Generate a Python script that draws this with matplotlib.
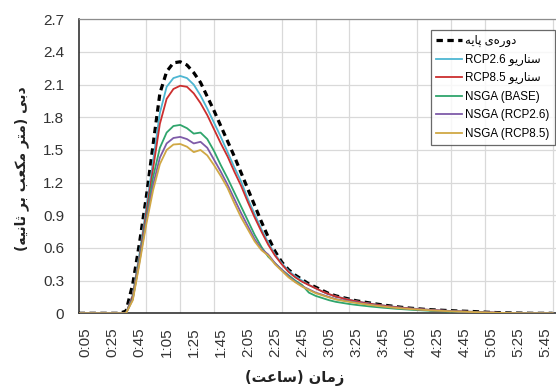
import matplotlib
matplotlib.use("Agg")
import matplotlib.pyplot as plt
import numpy as np

# ---------------- data ----------------
time_min = list(range(0, 355, 5))  # categories every 5 minutes (0:00 .. 5:50)

base_period = [0, 0, 0, 0, 0, 0, 0, 0.02, 0.27, 0.65, 1.07, 1.55, 2.02, 2.22, 2.30, 2.31,
               2.28, 2.21, 2.12, 1.99, 1.86, 1.72, 1.58, 1.44, 1.29, 1.14, 0.99, 0.84, 0.70,
               0.57, 0.47, 0.40, 0.35, 0.31, 0.27, 0.24, 0.21, 0.18, 0.16, 0.145, 0.13, 0.115,
               0.105, 0.095, 0.085, 0.076, 0.068, 0.06, 0.053, 0.047, 0.042, 0.037, 0.033,
               0.03, 0.027, 0.024, 0.021, 0.019, 0.017, 0.014, 0.011, 0.008, 0.006, 0.004,
               0.003, 0.002, 0.001, 0, 0, 0, 0]
rcp26 = [0, 0, 0, 0, 0, 0, 0, 0.0, 0.17, 0.55, 0.97, 1.40, 1.84, 2.08, 2.16, 2.18,
         2.16, 2.10, 2.00, 1.88, 1.75, 1.62, 1.48, 1.34, 1.21, 1.05, 0.91, 0.77, 0.65,
         0.54, 0.46, 0.39, 0.34, 0.30, 0.26, 0.23, 0.20, 0.175, 0.155, 0.14, 0.125, 0.11,
         0.10, 0.09, 0.08, 0.072, 0.064, 0.057, 0.05, 0.045, 0.04, 0.035, 0.031, 0.027,
         0.024, 0.021, 0.018, 0.016, 0.014, 0.012, 0.009, 0.007, 0.005, 0.003, 0.002,
         0.001, 0, 0, 0, 0, 0]
rcp85 = [0, 0, 0, 0, 0, 0, 0, 0.0, 0.16, 0.52, 0.93, 1.33, 1.74, 1.97, 2.06, 2.09,
         2.08, 2.02, 1.93, 1.82, 1.69, 1.56, 1.44, 1.30, 1.17, 1.02, 0.88, 0.75, 0.63,
         0.53, 0.45, 0.38, 0.33, 0.29, 0.26, 0.23, 0.20, 0.175, 0.155, 0.138, 0.123, 0.11,
         0.098, 0.088, 0.079, 0.071, 0.063, 0.056, 0.05, 0.044, 0.039, 0.035, 0.031,
         0.027, 0.024, 0.021, 0.018, 0.016, 0.014, 0.011, 0.009, 0.007, 0.005, 0.003,
         0.002, 0.001, 0, 0, 0, 0, 0]
nsga_base = [0, 0, 0, 0, 0, 0, 0, 0.0, 0.14, 0.50, 0.88, 1.25, 1.52, 1.66, 1.72, 1.73,
             1.70, 1.65, 1.66, 1.60, 1.49, 1.36, 1.24, 1.11, 0.98, 0.85, 0.72, 0.61, 0.52,
             0.46, 0.40, 0.35, 0.30, 0.26, 0.19, 0.16, 0.14, 0.12, 0.105, 0.095, 0.085,
             0.077, 0.07, 0.063, 0.057, 0.051, 0.046, 0.041, 0.037, 0.033, 0.029, 0.026,
             0.023, 0.02, 0.018, 0.016, 0.014, 0.012, 0.01, 0.008, 0.006, 0.004, 0.003,
             0.002, 0.001, 0, 0, 0, 0, 0, 0]
nsga_rcp26 = [0, 0, 0, 0, 0, 0, 0, 0.0, 0.13, 0.48, 0.85, 1.18, 1.43, 1.56, 1.61, 1.62,
              1.60, 1.56, 1.575, 1.52, 1.41, 1.30, 1.18, 1.05, 0.92, 0.80, 0.68, 0.59, 0.54,
              0.46, 0.40, 0.34, 0.29, 0.25, 0.22, 0.19, 0.17, 0.15, 0.13, 0.12, 0.11, 0.10,
              0.09, 0.08, 0.072, 0.064, 0.057, 0.051, 0.045, 0.04, 0.036, 0.032, 0.028,
              0.025, 0.022, 0.019, 0.016, 0.014, 0.012, 0.01, 0.008, 0.006, 0.004, 0.003,
              0.002, 0.001, 0, 0, 0, 0, 0]
nsga_rcp85 = [0, 0, 0, 0, 0, 0, 0, 0.0, 0.12, 0.46, 0.82, 1.13, 1.37, 1.50, 1.55, 1.555,
              1.53, 1.48, 1.50, 1.45, 1.36, 1.26, 1.15, 1.01, 0.88, 0.77, 0.66, 0.58, 0.53,
              0.45, 0.39, 0.33, 0.285, 0.245, 0.215, 0.185, 0.165, 0.145, 0.127, 0.115,
              0.105, 0.095, 0.086, 0.077, 0.069, 0.062, 0.055, 0.049, 0.044, 0.039, 0.035,
              0.031, 0.027, 0.024, 0.021, 0.018, 0.016, 0.014, 0.012, 0.01, 0.008, 0.006,
              0.004, 0.003, 0.002, 0.001, 0, 0, 0, 0, 0]

series_labels = ["دوره‌ی پایه", "سناریو RCP2.6", "سناریو RCP8.5",
                 "NSGA (BASE)", "NSGA (RCP2.6)", "NSGA (RCP8.5)"]
x_tick_pos = list(range(5, 350, 20))
x_tick_labels = ["0:05", "0:25", "0:45", "1:05", "1:25", "1:45", "2:05", "2:25", "2:45",
                 "3:05", "3:25", "3:45", "4:05", "4:25", "4:45", "5:05", "5:25", "5:45"]
y_ticks = [0, 0.3, 0.6, 0.9, 1.2, 1.5, 1.8, 2.1, 2.4, 2.7]
y_tick_labels = ["0", "0.3", "0.6", "0.9", "1.2", "1.5", "1.8", "2.1", "2.4", "2.7"]
x_title = "زمان (ساعت)"
y_title = "دبی (متر مکعب بر ثانیه)"

# ---------------- minimal Persian shaping (no external libs) ----------------
FORMS = {
    'ا': ('\uFE8D', '\uFE8E', None, None),
    'ب': ('\uFE8F', '\uFE90', '\uFE91', '\uFE92'),
    'پ': ('\uFB56', '\uFB57', '\uFB58', '\uFB59'),
    'ت': ('\uFE95', '\uFE96', '\uFE97', '\uFE98'),
    'ث': ('\uFE99', '\uFE9A', '\uFE9B', '\uFE9C'),
    'د': ('\uFEA9', '\uFEAA', None, None),
    'ر': ('\uFEAD', '\uFEAE', None, None),
    'ز': ('\uFEAF', '\uFEB0', None, None),
    'س': ('\uFEB1', '\uFEB2', '\uFEB3', '\uFEB4'),
    'ع': ('\uFEC9', '\uFECA', '\uFECB', '\uFECC'),
    'م': ('\uFEE1', '\uFEE2', '\uFEE3', '\uFEE4'),
    'ن': ('\uFEE5', '\uFEE6', '\uFEE7', '\uFEE8'),
    'ه': ('\uFEE9', '\uFEEA', '\uFEEB', '\uFEEC'),
    'و': ('\uFEED', '\uFEEE', None, None),
    'ی': ('\uFBFC', '\uFBFD', '\uFBFE', '\uFBFF'),
    'ک': ('\uFB8E', '\uFB8F', '\uFB90', '\uFB91'),
}


def shape(s):
    out = []
    n = len(s)
    for i, c in enumerate(s):
        if c not in FORMS:
            if c != '\u200c':
                out.append(c)
            continue
        prev = s[i - 1] if i > 0 else ''
        nxt = s[i + 1] if i < n - 1 else ''
        jp = prev in FORMS and FORMS[prev][2] is not None
        jn = nxt in FORMS and FORMS[c][2] is not None
        iso, fin, ini, med = FORMS[c]
        if jp and jn:
            out.append(med)
        elif jp:
            out.append(fin)
        elif jn:
            out.append(ini)
        else:
            out.append(iso)
    return ''.join(out)


def is_ar(ch):
    o = ord(ch)
    return 0x0600 <= o <= 0x06FF or 0xFB50 <= o <= 0xFDFF or 0xFE70 <= o <= 0xFEFF


def visual(s):
    if not any(is_ar(c) for c in s):
        return s
    words = shape(s).split(' ')
    res = []
    for w in reversed(words):
        if any(is_ar(c) for c in w):
            w = w[::-1].translate(str.maketrans('()', ')('))
        res.append(w)
    return ' '.join(res)


# ---------------- figure ----------------
W, H = 556, 387
fig = plt.figure(figsize=(W / 100, H / 100), dpi=100)
ax = fig.add_axes([79.3 / W, 1 - 313.3 / H, (W - 79.3) / W, (313.3 - 19.3) / H])

colors = ["#000000", "#4DB6D2", "#CC2E2E", "#2FA56C", "#7E5BA8", "#D0A844"]
series = [base_period, rcp26, rcp85, nsga_base, nsga_rcp26, nsga_rcp85]
for i, (vals, col, lab) in enumerate(zip(series, colors, series_labels)):
    if i == 0:
        ax.plot(time_min, vals, color=col, lw=2.3, ls=(0, (2.0, 1.4)), label=visual(lab),
                zorder=3, dash_capstyle='butt')
    else:
        ax.plot(time_min, vals, color=col, lw=1.3, label=visual(lab), zorder=3 + i)

ax.set_xlim(0.5, 352.5)
ax.set_ylim(0, 2.7)
ax.set_yticks(y_ticks)
ax.set_yticklabels(y_tick_labels)
ax.set_xticks(x_tick_pos)
ax.set_xticklabels(x_tick_labels, rotation=90)
ax.set_xticks(list(range(25, 351, 25)), minor=True)
ax.tick_params(which='both', length=0)
ax.tick_params(axis='y', pad=11, labelsize=11, labelcolor='#333333')
ax.tick_params(axis='x', pad=10, labelsize=11, labelcolor='#333333')
for lbl in ax.get_xticklabels() + ax.get_yticklabels():
    lbl.set_family(['Liberation Sans', 'DejaVu Sans'])

ax.grid(True, axis='y', which='major', color='#D9D9D9', lw=0.9, zorder=0)
ax.grid(True, axis='x', which='minor', color='#D9D9D9', lw=0.9, zorder=0)
ax.grid(False, axis='x', which='major')
ax.set_axisbelow(True)

for sp in ['left', 'bottom']:
    ax.spines[sp].set_color('#222222')
    ax.spines[sp].set_linewidth(1.1)
ax.spines['top'].set_color('#8C8C8C')
ax.spines['top'].set_linewidth(0.9)
ax.spines['right'].set_visible(False)

leg = ax.legend(loc='upper right', bbox_to_anchor=((554.5 - 79.3) / (W - 79.3), (313.3 - 30) / 294),
                borderaxespad=0, frameon=True, fancybox=False,
                prop={'family': ['Liberation Sans', 'DejaVu Sans'], 'size': 8.4},
                handlelength=2.2, handletextpad=0.3, labelspacing=0.55, borderpad=0.45)
leg.get_frame().set_edgecolor('#444444')
leg.get_frame().set_linewidth(0.9)

fig.text(22 / W, 1 - 169 / H, visual(y_title), rotation=90, ha='center', va='center',
         fontweight='bold', fontsize=10, family='DejaVu Sans', color='#222222')
fig.text(295 / W, 1 - 378 / H, visual(x_title), ha='center', va='center',
         fontweight='bold', fontsize=10.5, family='DejaVu Sans', color='#222222')

fig.savefig("out.png", dpi=100)
